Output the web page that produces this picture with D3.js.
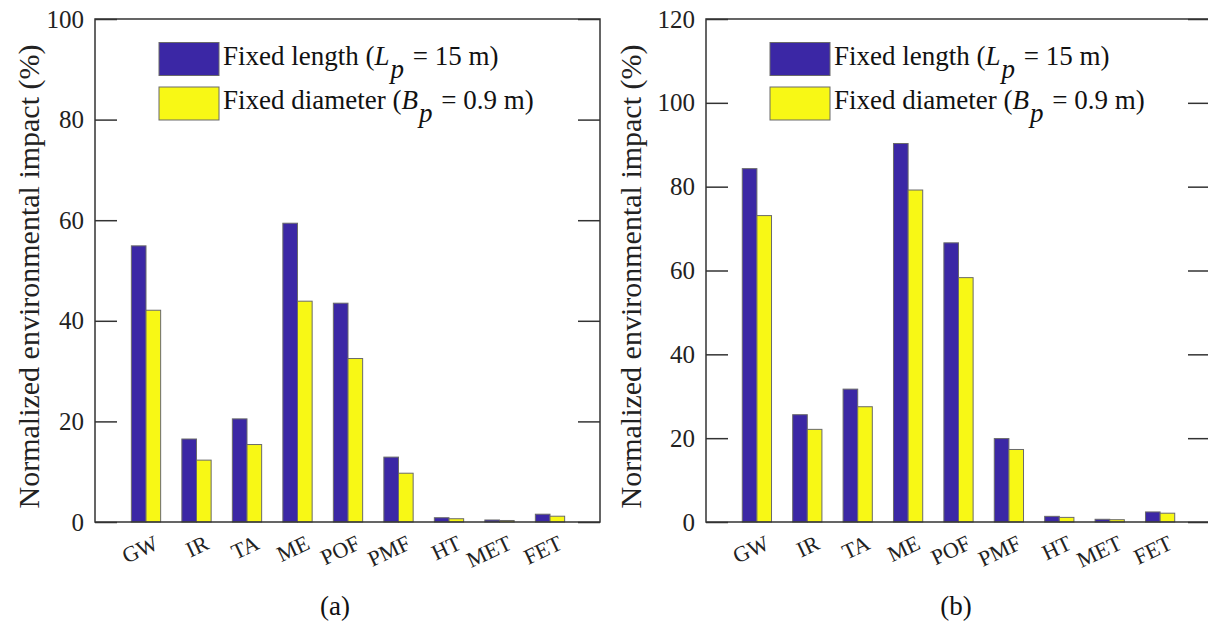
<!DOCTYPE html>
<html>
<head>
<meta charset="utf-8">
<script src="https://cdn.jsdelivr.net/npm/d3@7/dist/d3.min.js"></script>
</head>
<body style="margin:0;background:#fff">
<svg id="chart" width="1208" height="628" font-family="Liberation Serif"></svg>
<script>
// ---- Data ----
const categories = ["GW", "IR", "TA", "ME", "POF", "PMF", "HT", "MET", "FET"];
const fixedLengthA   = [54.9, 16.5, 20.5, 59.4, 43.5, 12.9, 0.85, 0.4, 1.55];
const fixedDiameterA = [42.1, 12.3, 15.4, 43.9, 32.5,  9.7, 0.65, 0.3, 1.15];
const fixedLengthB   = [84.3, 25.6, 31.7, 90.3, 66.6, 19.9, 1.35, 0.65, 2.4];
const fixedDiameterB = [73.1, 22.1, 27.5, 79.2, 58.3, 17.3, 1.1, 0.55, 2.1];
const ticksA = [0, 20, 40, 60, 80, 100];
const ticksB = [0, 20, 40, 60, 80, 100, 120];
const seriesNames = ["Fixed length", "Fixed diameter"];
const captions = ["(a)", "(b)"];

const FONT = "Liberation Serif";
const BLUE = "#3b27a5";
const YELLOW = "#f8f815";
const EDGE = "#6a6a6a";
const AXIS = "#333";

const svg = d3.select("#chart");

function drawPanel(opts) {
  const { left, right, top, bottom, yMax, ticks, s1, s2, caption, captionX, titleX } = opts;
  const g = svg.append("g").attr("font-family", FONT);
  const x = d3.scaleLinear().domain([0, categories.length + 1]).range([left, right]);
  const y = d3.scaleLinear().domain([0, yMax]).range([bottom, top]);
  const step = x(1) - x(0);
  const bw = step * 0.29;

  const idx = d3.range(categories.length);
  g.selectAll(".b1").data(idx).join("rect")
    .attr("x", i => x(i + 1) - bw + 0.5)
    .attr("y", i => y(s1[i]))
    .attr("width", bw)
    .attr("height", i => y(0) - y(s1[i]))
    .attr("fill", BLUE).attr("stroke", EDGE).attr("stroke-width", 1);
  g.selectAll(".b2").data(idx).join("rect")
    .attr("x", i => x(i + 1) + 0.5)
    .attr("y", i => y(s2[i]))
    .attr("width", bw)
    .attr("height", i => y(0) - y(s2[i]))
    .attr("fill", YELLOW).attr("stroke", EDGE).attr("stroke-width", 1);

  const yl = g.append("g").attr("transform", `translate(${left},0)`)
    .call(d3.axisLeft(y).tickValues(ticks).tickSizeInner(-22).tickSizeOuter(0).tickPadding(11));
  yl.attr("font-family", FONT).attr("font-size", 25);
  yl.select(".domain").remove();
  yl.selectAll("line").attr("stroke", AXIS).attr("stroke-width", 1.5);
  yl.selectAll("text").attr("font-size", 25).attr("fill", "#222").attr("font-family", FONT);

  const yr = g.append("g").attr("transform", `translate(${right},0)`)
    .call(d3.axisRight(y).tickValues(ticks).tickSizeInner(-22).tickSizeOuter(0).tickFormat(""));
  yr.select(".domain").remove();
  yr.selectAll("line").attr("stroke", AXIS).attr("stroke-width", 1.5);

  const xa = g.append("g").attr("transform", `translate(0,${bottom})`)
    .call(d3.axisBottom(x).tickValues(idx.map(i => i + 1)).tickFormat(v => categories[v - 1]).tickSize(0));
  xa.attr("font-family", FONT).attr("font-size", 22);
  xa.select(".domain").remove();
  xa.selectAll("text")
    .attr("font-size", 22).attr("fill", "#222")
    .attr("font-family", FONT)
    .attr("text-anchor", "end")
    .attr("y", 0).attr("dy", "0.72em")
    .attr("transform", "translate(7,12) rotate(-25)");

  g.append("rect").attr("x", left).attr("y", top)
    .attr("width", right - left).attr("height", bottom - top)
    .attr("fill", "none").attr("stroke", AXIS).attr("stroke-width", 1.5);

  g.append("text")
    .attr("transform", `translate(${titleX},${(top + bottom) / 2 + 6}) rotate(-90)`)
    .attr("text-anchor", "middle").attr("dy", "0.35em")
    .attr("font-size", 30).attr("fill", "#222")
    .attr("font-family", FONT)
    .text("Normalized environmental impact (%)");

  const lx = left + 64;
  const rows = [
    { color: BLUE, sym: "L", post: " = 15 m)", y: 42.5 },
    { color: YELLOW, sym: "B", post: " = 0.9 m)", y: 87 }
  ];
  rows.forEach((r, k) => {
    g.append("rect").attr("x", lx).attr("y", r.y).attr("width", 60).attr("height", 33)
      .attr("fill", r.color).attr("stroke", EDGE).attr("stroke-width", 1);
    const t = g.append("text").attr("x", lx + 64).attr("y", r.y + 22)
      .attr("font-size", 27).attr("fill", "#111").attr("font-family", FONT);
    t.append("tspan").text(seriesNames[k] + " (");
    t.append("tspan").attr("font-style", "italic").text(r.sym);
    t.append("tspan").attr("font-style", "italic").attr("dy", 13).attr("dx", 1).text("p");
    t.append("tspan").attr("dy", -13).attr("dx", 2).text(r.post);
  });

  svg.append("text").attr("x", captionX).attr("y", 615)
    .attr("text-anchor", "middle").attr("font-size", 27).attr("fill", "#111")
    .attr("font-family", FONT)
    .text(caption);
}

drawPanel({ left: 95, right: 600, top: 19, bottom: 522, yMax: 100, ticks: ticksA,
  s1: fixedLengthA, s2: fixedDiameterA, caption: captions[0], captionX: 335, titleX: 28 });
drawPanel({ left: 706, right: 1210, top: 19, bottom: 522, yMax: 120, ticks: ticksB,
  s1: fixedLengthB, s2: fixedDiameterB, caption: captions[1], captionX: 956, titleX: 630 });
</script>
</body>
</html>
